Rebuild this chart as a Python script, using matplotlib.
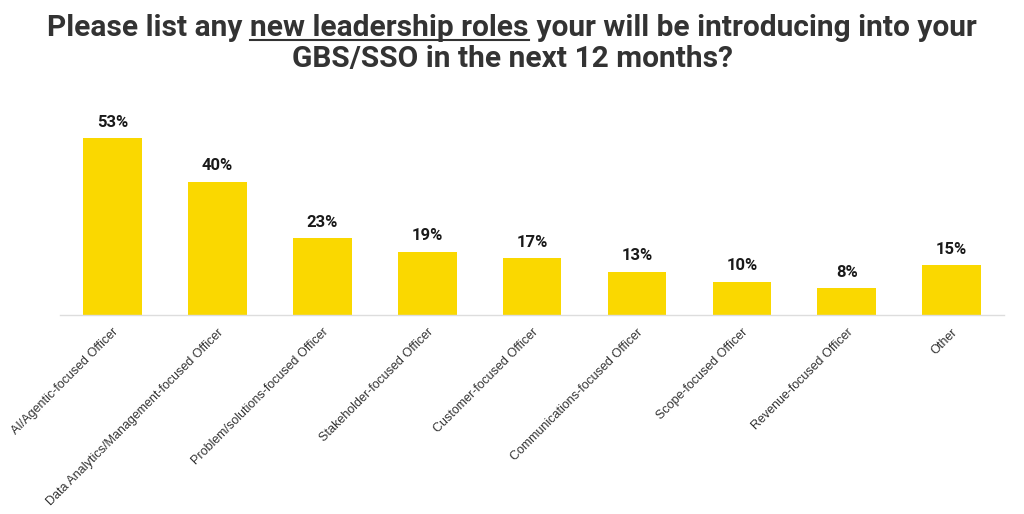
import matplotlib
matplotlib.use("Agg")
import matplotlib.pyplot as plt

# Dados do gráfico
categorias = [
    "AI/Agentic-focused Officer",
    "Data Analytics/Management-focused Officer",
    "Problem/solutions-focused Officer",
    "Stakeholder-focused Officer",
    "Customer-focused Officer",
    "Communications-focused Officer",
    "Scope-focused Officer",
    "Revenue-focused Officer",
    "Other",
]
valores = [53, 40, 23, 19, 17, 13, 10, 8, 15]

COR_BARRA = "#FAD800"
COR_TEXTO = "#333333"

fig = plt.figure(figsize=(10.24, 5.14), dpi=100)
ax = fig.add_axes([0.0586, 0.387, 0.922, 0.389])

x = range(len(categorias))
barras = ax.bar(x, valores, width=0.56, color=COR_BARRA, zorder=2)

for b, v in zip(barras, valores):
    ax.annotate(f"{v}%", (b.get_x() + b.get_width() / 2, v),
                xytext=(0, 6), textcoords="offset points",
                ha="center", va="bottom", fontsize=12, fontweight="bold",
                family="Roboto", color="#1a1a1a")

ax.set_xlim(-0.5, len(categorias) - 0.5)
ax.set_ylim(0, 60)
ax.set_yticks([])
ax.set_xticks(list(x))
ax.set_xticklabels(categorias, rotation=45, ha="right", rotation_mode="anchor",
                   fontsize=9, family="Liberation Sans", color=COR_TEXTO)
ax.tick_params(axis="x", length=0, pad=8)
for lado in ["top", "right", "left"]:
    ax.spines[lado].set_visible(False)
ax.spines["bottom"].set_color("#dddddd")
ax.spines["bottom"].set_linewidth(1)

# Título com parte sublinhada (montado por pedaços)
partes = ["Please list any ", "new leadership roles", " your will be introducing into your"]
estilo = dict(fontsize=21.5, fontweight="bold", family="Roboto", color=COR_TEXTO,
              va="baseline", ha="left")
fig.canvas.draw()
rend = fig.canvas.get_renderer()
textos = [fig.text(0, 0, p, **estilo) for p in partes]
larguras = [t.get_window_extent(rend).width for t in textos]
total = sum(larguras)
W = fig.bbox.width
x0 = (W - total) / 2
y_base = 1 - 36 / 514
for t, w in zip(textos, larguras):
    t.set_position((x0 / W, y_base))
    if t.get_text() == partes[1]:
        fig.add_artist(plt.Line2D([x0 / W, (x0 + w) / W], [y_base - 4 / 514] * 2,
                                  color=COR_TEXTO, linewidth=1.5))
    x0 += w
fig.text(0.5, 1 - 67 / 514, "GBS/SSO in the next 12 months?",
         fontsize=21.5, fontweight="bold", family="Roboto", color=COR_TEXTO,
         ha="center", va="baseline")

fig.savefig("out.png", dpi=100, facecolor="white")
